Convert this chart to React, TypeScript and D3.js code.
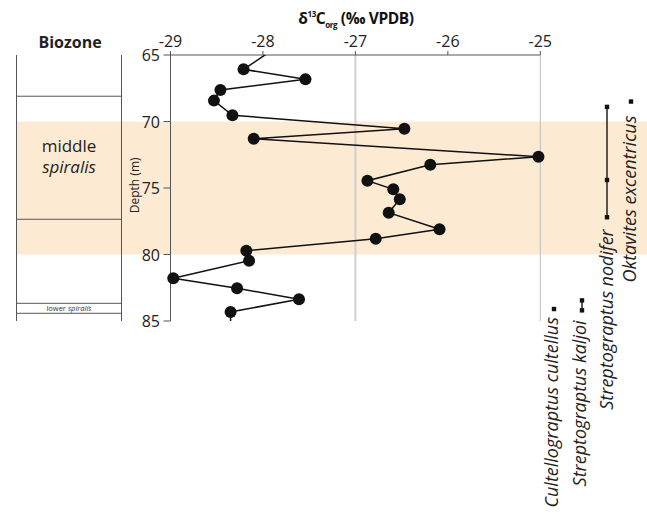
import React from "react";
import * as d3 from "d3";

// ---- data ----
const depths = [64.5, 66.08, 66.83, 67.63, 68.43, 69.53, 70.54, 71.29, 72.65, 73.25, 74.45, 75.1, 75.85, 76.86, 78.1, 78.81, 79.71, 80.47, 81.79, 82.54, 83.37, 84.32, 85.6];
const d13C = [-27.87, -28.21, -27.54, -28.46, -28.53, -28.33, -26.47, -28.1, -25.02, -26.19, -26.87, -26.59, -26.52, -26.64, -26.09, -26.78, -28.18, -28.15, -28.97, -28.28, -27.61, -28.35, -28.35];
const xTicks = [-29, -28, -27, -26, -25];
const yTicks = [65, 70, 75, 80, 85];
const gridValues = [-27, -25];
const bandRange = [70, 80];
const biozoneBoundaries = [68.1, 77.35, 83.67, 84.42];
const speciesNames = ["Cultellograptus cultellus", "Streptograptus kaljoi", "Streptograptus nodifer", "Oktavites excentricus"];
const speciesDepths = [[84.1], [83.45, 84.2], [68.9, 74.4, 77.2], [68.5]];

// ---- layout ----
const W = 647, H = 519;
const speciesMarkX = [554, 582, 607, 631];
const speciesLabelX = [558, 586, 613, 636];
const speciesLabelGap = [8, 10, 12, 14];
const FONT = "'Open Sans', 'DejaVu Sans', sans-serif";
const axisColor = "#555";

export default function App() {
  const x = d3.scaleLinear().domain([-29, -25]).range([170.5, 540.3]);
  const y = d3.scaleLinear().domain([65, 85]).range([55, 321]);
  const pts = depths.map((d, i) => [x(d13C[i]), y(d)] as [number, number]);
  const line = d3.line()(pts) || "";
  const colL = 16.5, colR = 121.5;
  return (
    <svg width={W} height={H} style={{ position: "fixed", left: 0, top: 0 }} fontFamily={FONT}>
      <defs>
        <clipPath id="plotClip">
          <rect x={0} y={y(65)} width={W} height={y(85) - y(65)} />
        </clipPath>
      </defs>
      <rect width={W} height={H} fill="#fff" />
      {/* highlight band */}
      <rect x={colL} y={y(bandRange[0])} width={W - colL} height={y(bandRange[1]) - y(bandRange[0])} fill="#fdead3" />

      {/* biozone column */}
      <text x={70} y={48} textAnchor="middle" fontWeight="bold" fontSize={16} fill="#222">Biozone</text>
      <line x1={colL} x2={colL} y1={y(65)} y2={y(85)} stroke={axisColor} strokeWidth={1} />
      <line x1={colR} x2={colR} y1={y(65)} y2={y(85)} stroke={axisColor} strokeWidth={1} />
      {biozoneBoundaries.map((b, i) => (
        <line key={i} x1={colL} x2={colR} y1={y(b)} y2={y(b)} stroke={axisColor} strokeWidth={1} />
      ))}
      <text x={69} y={151.5} textAnchor="middle" fontSize={17} fill="#222">middle</text>
      <text x={69} y={172.5} textAnchor="middle" fontSize={17} fontStyle="italic" fill="#222">spiralis</text>
      <text x={69} y={311} textAnchor="middle" fontSize={7.5} fill="#333">
        lower <tspan fontStyle="italic">spiralis</tspan>
      </text>

      {/* grid lines */}
      {gridValues.map((g, i) => (
        <line key={g} x1={x(g)} x2={x(g)} y1={y(65)} y2={y(85)} stroke={i === 0 ? "#cfcfcf" : "#bdbdbd"} strokeWidth={i === 0 ? 2 : 1} />
      ))}

      {/* axes */}
      <line x1={x(-29)} x2={x(-25)} y1={y(65)} y2={y(65)} stroke={axisColor} strokeWidth={1} />
      <line x1={x(-29)} x2={x(-29)} y1={y(65)} y2={y(85)} stroke={axisColor} strokeWidth={1} />
      {xTicks.map((t) => (
        <g key={t}>
          <line x1={x(t)} x2={x(t)} y1={y(65) - 4} y2={y(65)} stroke={axisColor} strokeWidth={1} />
          <text x={x(t)} y={46.5} textAnchor="middle" fontSize={16} fill="#222">{"-" + Math.abs(t)}</text>
        </g>
      ))}
      {yTicks.map((t) => (
        <g key={t}>
          <line x1={x(-29) - 7} x2={x(-29)} y1={y(t)} y2={y(t)} stroke={axisColor} strokeWidth={1} />
          <text x={160} y={y(t) + 6} textAnchor="end" fontSize={16} fill="#222">{t}</text>
        </g>
      ))}
      <text transform={`translate(139, ${y(74.8)}) rotate(-90)`} textAnchor="middle" fontSize={12} fill="#222">Depth (m)</text>

      {/* title */}
      <text x={356} y={24} textAnchor="middle" fontWeight="bold" fontSize={15.5} letterSpacing={-0.4} fill="#111">
        δ<tspan fontSize={8} dy={-7}>13</tspan><tspan dy={7}>C</tspan><tspan fontSize={8} dy={4}>org</tspan><tspan dy={-4}> (‰ VPDB)</tspan>
      </text>

      {/* data */}
      <g clipPath="url(#plotClip)">
        <path d={line} fill="none" stroke="#111" strokeWidth={1.5} />
        {pts.map((p, i) => (
          <circle key={i} cx={p[0]} cy={p[1]} r={6} fill="#111" />
        ))}
      </g>

      {/* species ranges */}
      {speciesNames.map((name, i) => {
        const ds = speciesDepths[i];
        const mx = speciesMarkX[i];
        const top = d3.min(ds)!, bot = d3.max(ds)!;
        return (
          <g key={name}>
            {ds.length > 1 && <line x1={mx} x2={mx} y1={y(top)} y2={y(bot)} stroke="#222" strokeWidth={1.5} />}
            {ds.map((d, j) => (
              <rect key={j} x={mx - 2.2} y={y(d) - 2.2} width={4.4} height={4.4} fill="#111" />
            ))}
            <text transform={`translate(${speciesLabelX[i]}, ${y(bot) + speciesLabelGap[i]}) rotate(-90)`} textAnchor="end" fontSize={18} fontStyle="italic" fill="#222">{name}</text>
          </g>
        );
      })}
    </svg>
  );
}
